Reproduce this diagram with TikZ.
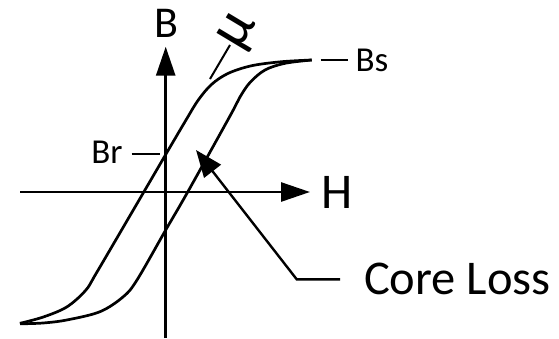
\documentclass[tikz,border=0pt]{standalone}
\usepackage{fontspec}
\setmainfont{Carlito}
\usetikzlibrary{arrows.meta}
\begin{document}
\begin{tikzpicture}[x=1pt,y=-1pt,
  mainline/.style={line width=2.7pt, line join=round},
  leader/.style={line width=2pt},
  axisarrow/.style={mainline, -{Triangle[length=29pt,width=19pt]}},
  lossarrow/.style={line width=2.4pt, -{Triangle[length=27pt,width=21pt]}},
  lbl/.style={inner sep=0pt, outer sep=0pt}]
\useasboundingbox (0,0) rectangle (559,338);
\fill[white] (0,0) rectangle (559,338);
% axes
\coordinate (vbot) at (165.7,338);
\coordinate (vtop) at (165.7,46.7);
\coordinate (hleft) at (20,192);
\coordinate (hright) at (310,192);
\draw[axisarrow] (vbot) -- (vtop);
\draw[axisarrow] (hleft) -- (hright);
% hysteresis loop
\draw[mainline] plot[smooth, tension=0.55] coordinates {(20,323.3) (43.3,317) (66.7,307) (85.5,290.5) (97,272) (143.8,192) (165.7,154.5) (185,121.7) (198.3,100) (211.7,84.3) (228.3,73.3) (251.7,65.7) (281.7,61.7) (311.7,60)};
\draw[mainline] plot[smooth, tension=0.55] coordinates {(311.7,60) (285,63.3) (265,70) (250,82.5) (240,97) (230,116) (187.7,192) (165.7,230) (137,280) (123.3,296.7) (100,311.7) (66.7,320) (43,323) (20,323.8)};
% labels
\node[lbl] (B) at (166,23.3) {\fontsize{44}{44}\selectfont B};
\node[lbl, anchor=west] (H) at (321,192) {\fontsize{50}{50}\selectfont H};
\node[lbl, anchor=west] (Bs) at (355.5,60.5) {\fontsize{35}{35}\selectfont Bs};
\node[lbl, anchor=east] (Br) at (122.5,152) {\fontsize{35}{35}\selectfont Br};
\node[lbl, anchor=west] (CL) at (364,279) {\fontsize{48.5}{48.5}\selectfont Core Loss};
\node[lbl, rotate=59] (mu) at (240,32) {\fontsize{60}{60}\selectfont μ};
% leaders
\coordinate (bs1) at (320.7,60);
\coordinate (bs2) at (348.3,60);
\draw[leader] (bs1) -- (bs2);
\coordinate (br1) at (131.7,154);
\coordinate (br2) at (160,154);
\draw[leader] (br1) -- (br2);
\coordinate (mu1) at (210,79);
\coordinate (mu2) at (230,45);
\draw[leader] (mu1) -- (mu2);
\coordinate (cl1) at (340,279.3);
\coordinate (cl2) at (296.7,279.3);
\coordinate (cltip) at (196,150);
\draw[lossarrow] (cl1) -- (cl2) -- (cltip);
\end{tikzpicture}
\end{document}
